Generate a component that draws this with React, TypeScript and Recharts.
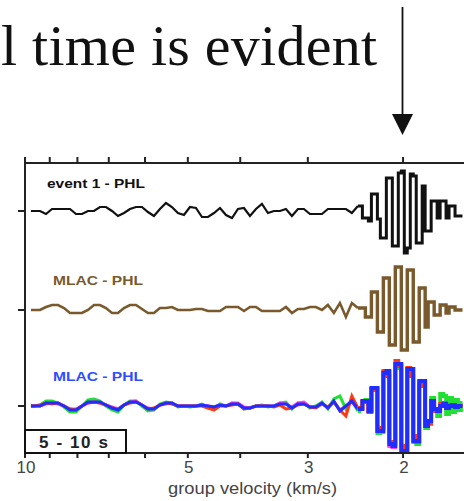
import { LineChart, Line, XAxis, YAxis } from 'recharts';

// sample positions along the group velocity axis (km/s)
const velocity = [
  9.75, 9.624, 9.381, 9.145, 8.914, 8.689, 8.47, 8.257, 8.049, 7.846,
  7.648, 7.455, 7.267, 7.084, 6.905, 6.731, 6.561, 6.396, 6.235, 6.078,
  5.925, 5.776, 5.63, 5.488, 5.35, 5.215, 5.083, 4.955, 4.83, 4.708,
  4.589, 4.473, 4.36, 4.25, 4.143, 4.039, 3.937, 3.838, 3.741, 3.647,
  3.555, 3.465, 3.378, 3.293, 3.21, 3.129, 3.05, 2.973, 2.898, 2.825,
  2.754, 2.685, 2.617, 2.551, 2.487, 2.424,
  2.393, 2.363, 2.333, 2.303, 2.274, 2.245, 2.217, 2.189, 2.161, 2.134,
  2.107, 2.08, 2.054, 2.028, 2.002, 1.977, 1.952, 1.927, 1.903, 1.879,
  1.855, 1.832, 1.809, 1.786, 1.763, 1.741, 1.719, 1.697, 1.676, 1.655,
  1.634, 1.613, 1.593, 1.573, 1.553,
];

// event 1 - PHL (black)
const event1Phl = [
  0, 0, 0, -3, 2, 2, 2, 2, -3, -3,
  0, 0, 4, 4, 0, -5, -2, 2, 4, 4,
  -1, -5, 2, 8, 4, -2, -4, 4, 3, -6,
  -6, -2, 3, -4, -7, 2, 3, -5, 2, 7,
  -2, 0, 0, 2, -5, 2, 2, -3, -3, -3,
  2, 2, 2, 2, -2, 5,
  5, -7, -7, -10, 17, 17, -8, -27, -27, 33,
  33, -35, -35, 38, 40, -42, -37, 37, 35, -32,
  -32, 25, -20, -20, 10, 10, -7, 10, 10, -7,
  5, 5, -5, -5, -5,
];

// MLAC - PHL (brown)
const mlacPhlBrown = [
  0, 0, 0, 3, 5, 5, 2, -3, -3, -3,
  0, 5, 5, 2, -3, -3, 2, 5, 5, 1,
  -3, -3, 2, 2, 3, 0, 0, 0, 1, 1,
  -1, -1, -1, 3, 3, 3, -1, 3, 3, -1,
  -1, -1, -1, 3, -3, 1, 1, 3, 3, 0,
  5, -3, 7, -7, 7, 2,
  2, 2, -7, -7, 18, 18, -22, -22, 32, 32,
  -35, -35, 43, 43, -40, -40, 40, 40, -32, -32,
  22, 22, -17, 8, 8, -5, -5, 5, 5, -3,
  3, 3, 0, 0, 0,
];

// MLAC - PHL, four overlaid estimates
const mlacPhlBlue = [
  0, 0, 0, 3, 3, 3, 0, -4, -4, 0,
  4, 4, 4, 1, -2, -4, 1, 4, 4, 1,
  -3, -3, 1, 3, 3, 0, 0, 0, 0, 1,
  0, -1, 1, 0, 2, 2, -2, -2, 0, 0,
  0, 0, 2, 2, -2, 2, 2, -1, -1, 3,
  -2, 5, -5, 0, 5, -3,
  -3, 5, 5, -5, 18, 18, -25, -25, 33, 35,
  -38, -40, 42, 42, -45, -45, 37, 37, -35, -35,
  25, 25, -20, -15, 5, -3, -5, 0, 2, -2,
  0, 1, -1, 0, 0,
];

const mlacPhlGreen = [
  0, 0, 1, 5, 5, 3, -1, -6, -6, 0,
  6, 7, 5, 0, -4, -6, 1, 5, 5, 0,
  -5, -4, 2, 4, 3, -1, 0, -1, 0, 2,
  -1, -2, 2, 0, 3, 2, -3, -2, 0, 1,
  -1, 0, 3, 4, -3, 3, 3, -2, 0, 4,
  -3, 7, 10, -3, 5, -5,
  -2, 4, 6, -4, 16, 18, -27, -26, 30, 34,
  -40, -40, 38, 40, -43, -46, 35, 37, -36, -38,
  23, 25, -22, -18, 8, -5, -10, 12, 10, -8,
  8, -6, 6, -4, 3,
];

const mlacPhlRed = [
  0, 0, 1, 3, 2, 3, 0, -3, -4, 0,
  3, 4, 3, 1, -2, -3, 1, 3, 4, 1,
  -3, -2, 1, 3, 2, 0, 0, 0, 0, 0,
  -2, -4, 0, 0, 1, 2, -3, -2, 0, 0,
  0, -1, 1, -3, -2, 1, 2, -1, -2, 2,
  -1, 4, -4, -10, 10, -2,
  -2, 4, 5, -6, 17, 16, -24, -22, 35, 30,
  -36, -38, 45, 40, -40, -44, 38, 30, -30, -36,
  20, 24, -18, -17, 4, -5, -4, 2, 3, -2,
  1, 0, -1, 0, 0,
];

const mlacPhlMagenta = [
  0, 0, 0, 2, 3, 2, 0, -3, -3, 0,
  3, 4, 3, 1, -1, -3, 1, 4, 5, 1,
  -2, -3, 1, 2, 3, 0, 0, 0, 0, 1,
  0, -1, 1, 0, 3, 3, -1, -2, 0, 0,
  0, 0, 3, 2, -1, 3, 4, -1, -1, 3,
  -2, 4, -4, 0, 4, -2,
  -3, 5, 4, -5, 17, 18, -25, -24, 34, 35,
  -39, -41, 41, 42, -46, -45, 36, 37, -34, -36,
  24, 25, -19, -15, 5, -3, -4, 0, 2, -2,
  0, 1, -1, 0, 0,
];

const velocityTicks = [10, 9, 8, 7, 6, 5, 4, 3, 2];
const labelledTicks = [10, 5, 3, 2];
// trace baselines (y axis ticks), top to bottom
const traceBaselines = [242, 143, 47];
// first sample of the surface-wave packet (drawn stepped, the coda before it drawn linear)
const packetStart = 55;

const traces = [
  { key: 'event1', values: event1Phl, base: traceBaselines[0], color: '#111', width: 2.2 },
  { key: 'brown', values: mlacPhlBrown, base: traceBaselines[1], color: '#7a5a2c', width: 2.6 },
  { key: 'green', values: mlacPhlGreen, base: traceBaselines[2], color: '#22e032', width: 3 },
  { key: 'magenta', values: mlacPhlMagenta, base: traceBaselines[2], color: '#ff3cf0', width: 3 },
  { key: 'red', values: mlacPhlRed, base: traceBaselines[2], color: '#ff3a12', width: 3 },
  { key: 'blue', values: mlacPhlBlue, base: traceBaselines[2], color: '#1f2dff', width: 3 },
];

const data = velocity.map((v, i) => {
  const row: Record<string, number | null> = { v };
  traces.forEach((t) => {
    const y = t.base + t.values[i];
    row[t.key] = i <= packetStart ? y : null;
    row[t.key + 'P'] = i >= packetStart ? y : null;
  });
  return row;
});

const SANS = 'Liberation Sans, Arial, Helvetica, sans-serif';
const AXIS = '#222';

const VelocityTick = (props: any) => {
  const { x, y, payload } = props;
  if (!labelledTicks.includes(payload.value)) return <g />;
  return (
    <text x={x + 1} y={y + 13} textAnchor="middle" fontSize={17} fill="#444" fontFamily={SANS}>
      {payload.value}
    </text>
  );
};

const App = () => {
  return (
    <div style={{ position: 'absolute', left: 0, top: 0, width: 464, height: 501, background: '#fff' }}>
      <LineChart
        width={464}
        height={501}
        data={data}
        margin={{ top: 157, right: 0, bottom: 0, left: 0 }}
      >
        <XAxis
          dataKey="v"
          type="number"
          scale="log"
          domain={[1.543, 10]}
          allowDataOverflow
          reversed
          ticks={velocityTicks}
          interval={0}
          height={48}
          tickSize={5}
          tickMargin={2}
          tick={<VelocityTick />}
          stroke={AXIS}
          strokeWidth={2}
        />
        <XAxis
          xAxisId="top"
          orientation="top"
          dataKey="v"
          type="number"
          scale="log"
          domain={[1.543, 10]}
          allowDataOverflow
          reversed
          ticks={velocityTicks}
          interval={0}
          height={6}
          tickSize={6}
          tick={() => <g />}
          stroke={AXIS}
          strokeWidth={2}
        />
        <YAxis
          type="number"
          domain={[0, 290]}
          allowDataOverflow
          ticks={traceBaselines}
          interval={0}
          width={25}
          tickSize={7}
          tick={() => <g />}
          stroke={AXIS}
          strokeWidth={2}
        />
        <Line xAxisId="top" dataKey="event1" stroke="none" dot={false} isAnimationActive={false} />
        {traces.map((t) => (
          <Line
            key={t.key}
            type="linear"
            dataKey={t.key}
            stroke={t.color}
            strokeWidth={t.width}
            dot={false}
            isAnimationActive={false}
          />
        ))}
        {traces.map((t) => (
          <Line
            key={t.key + 'P'}
            type="step"
            dataKey={t.key + 'P'}
            stroke={t.color}
            strokeWidth={t.width + 0.8}
            dot={false}
            isAnimationActive={false}
          />
        ))}
      </LineChart>
      <svg
        width={464}
        height={501}
        style={{ position: 'absolute', left: 0, top: 0, pointerEvents: 'none' }}
      >
        <text x={1} y={65} fontSize={58} fontFamily="Liberation Serif, Times New Roman, serif" fill="#111" textLength={376} lengthAdjust="spacing">
          l time is evident
        </text>
        <line x1={402.5} y1={7} x2={402.5} y2={117} stroke="#111" strokeWidth={1.8} />
        <polygon points="392,114 413,114 402.5,135" fill="#111" />
        <text x={47} y={188} fontSize={13} fontWeight="bold" fontFamily={SANS} fill="#111" textLength={98} lengthAdjust="spacingAndGlyphs">
          event 1 - PHL
        </text>
        <text x={53} y={285} fontSize={13.5} fontWeight="bold" fontFamily={SANS} fill="#7a5a2c" textLength={90} lengthAdjust="spacingAndGlyphs">
          MLAC - PHL
        </text>
        <text x={53} y={381} fontSize={13.5} fontWeight="bold" fontFamily={SANS} fill="#2f4dff" textLength={90} lengthAdjust="spacingAndGlyphs">
          MLAC - PHL
        </text>
        <rect x={25} y={430} width={101} height={23} fill="#fff" stroke="#111" strokeWidth={2} />
        <text x={39} y={448} fontSize={17} fontWeight="bold" fontFamily={SANS} fill="#222" textLength={69} lengthAdjust="spacing">
          5 - 10 s
        </text>
        <text x={168} y={494} fontSize={17} fontFamily={SANS} fill="#444" textLength={169} lengthAdjust="spacingAndGlyphs">
          group velocity (km/s)
        </text>
      </svg>
    </div>
  );
};

export default App;
